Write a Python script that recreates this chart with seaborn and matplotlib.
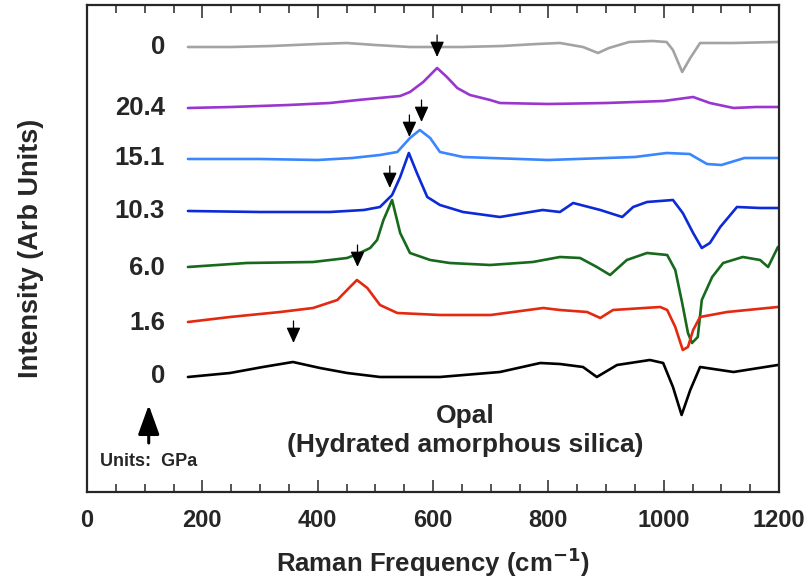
import numpy as np
import pandas as pd
import matplotlib
matplotlib.use("Agg")
import matplotlib.pyplot as plt
from matplotlib.ticker import MultipleLocator
import seaborn as sns

# Raman spectra of opal at increasing pressure.
# Each trace: wavenumber (cm-1) and intensity relative to its own baseline.
pressure_labels = ["0", "20.4", "15.1", "10.3", "6.0", "1.6", "0"]
trace_colors = ["#a3a3a3", "#9a36cf", "#3a86ff", "#0c2ad6", "#17691c", "#e3290f", "#000000"]
trace_offsets = [445, 384, 334, 281, 224, 169, 116]

gray_x = [175, 250, 320, 400, 450, 500, 560, 650, 720, 780, 820, 860, 886, 905, 940, 980,
          1005, 1016, 1032, 1046, 1063, 1120, 1198]
gray_y = [0, 0, 1, 3, 4, 2, 0, 0, 1, 3, 4, 0, -6, -1, 5, 6, 5, -3, -25, -11, 4, 4, 5]

purple_x = [175, 250, 300, 350, 421, 470, 543, 560, 583, 607, 624, 642, 664, 699, 716, 800,
            900, 950, 1000, 1051, 1080, 1121, 1160, 1198]
purple_y = [0, 1, 2, 3, 5, 8, 12, 16, 26, 40, 31, 20, 13, 8, 5, 4, 5, 6, 7, 11, 5, 0, 1, 1]

lightblue_x = [175, 300, 400, 460, 508, 538, 560, 577, 595, 612, 652, 699, 800, 900, 950,
               1005, 1045, 1075, 1100, 1140, 1198]
lightblue_y = [-1, -1, -2, 0, 3, 6, 20, 28, 20, 6, 1, 0, -2, 0, 1, 5, 4, -6, -7, 0, 0]

blue_x = [175, 300, 421, 480, 508, 529, 543, 558, 572, 590, 612, 652, 716, 790, 820, 843,
          890, 928, 947, 971, 1016, 1033, 1051, 1066, 1080, 1098, 1127, 1167, 1198]
blue_y = [0, -1, -1, 1, 4, 16, 34, 58, 38, 14, 6, -1, -6, 1, -1, 8, 1, -6, 4, 9, 11, -2,
          -22, -37, -32, -16, 4, 3, 3]

green_x = [175, 277, 392, 451, 473, 491, 503, 514, 529, 543, 560, 595, 629, 699, 773, 820,
           855, 884, 907, 936, 971, 1006, 1020, 1032, 1042, 1049, 1059, 1066, 1084, 1103,
           1137, 1167, 1181, 1198]
green_y = [1, 5, 6, 10, 15, 20, 28, 48, 68, 35, 15, 8, 5, 3, 6, 11, 10, 1, -7, 8, 15, 13,
           -2, -35, -65, -75, -69, -32, -9, 5, 11, 8, 1, 21]

red_x = [175, 248, 335, 392, 434, 456, 468, 486, 508, 538, 612, 700, 791, 820, 867, 890,
         912, 994, 1006, 1020, 1033, 1042, 1051, 1063, 1110, 1198]
red_y = [1, 6, 11, 15, 23, 36, 43, 35, 18, 10, 8, 8, 15, 13, 11, 5, 13, 16, 13, -4, -27,
         -24, -7, 6, 11, 16]

black_x = [175, 248, 305, 357, 404, 451, 508, 612, 716, 786, 820, 860, 884, 919, 976, 999,
           1016, 1031, 1046, 1063, 1121, 1198]
black_y = [-1, 3, 9, 14, 8, 3, -1, -1, 4, 13, 12, 9, -1, 11, 16, 13, -11, -39, -14, 9, 4, 11]

traces_x = [gray_x, purple_x, lightblue_x, blue_x, green_x, red_x, black_x]
traces_y = [gray_y, purple_y, lightblue_y, blue_y, green_y, red_y, black_y]

# peak markers (arrow tips)
peak_x = [607, 580, 559, 525, 469, 358]
peak_y = [435, 370, 355, 304, 225, 149]

sns.set_style("ticks")
plt.rcParams['font.family'] = ['Liberation Sans', 'DejaVu Sans']
plt.rcParams['font.weight'] = 'bold'
plt.rcParams['mathtext.default'] = 'bf'

fig = plt.figure(figsize=(8.08, 5.81), dpi=100)
ax = fig.add_axes([0.1077, 0.1532, 0.8565, 0.8382])

for xs, ys, off, col in zip(traces_x, traces_y, trace_offsets, trace_colors):
    df = pd.DataFrame({'freq': xs, 'inten': np.array(ys) + off})
    sns.lineplot(data=df, x='freq', y='inten', color=col, lw=1.9, ax=ax,
                 estimator=None, sort=False)

# pressure labels
for lab, off in zip(pressure_labels, trace_offsets):
    ax.text(135, off, lab, ha='right', va='center', fontsize=18.5, fontweight='bold')

# peak arrows
for px, py in zip(peak_x, peak_y):
    ax.annotate('', xy=(px, py), xytext=(px, py + 22),
                arrowprops=dict(arrowstyle='-|>,head_width=0.43,head_length=0.95',
                                color='black', lw=0.9, shrinkA=0, shrinkB=0,
                                mutation_scale=10))

# pressure direction arrow
ax.annotate('', xy=(107, 87), xytext=(107, 49),
            arrowprops=dict(arrowstyle='-|>,head_width=0.65,head_length=1.8',
                            color='black', lw=2.2, shrinkA=0, shrinkB=0,
                            mutation_scale=10))
ax.text(22, 30, 'Units:  GPa', ha='left', va='center', fontsize=13, fontweight='bold')

ax.text(656, 76, 'Opal', ha='center', va='center', fontsize=19, fontweight='bold')
ax.text(655, 47, '(Hydrated amorphous silica)', ha='center', va='center',
        fontsize=19, fontweight='bold')

ax.set_xlim(0, 1200)
ax.set_ylim(0, 487)
ax.set_yticks([])
ax.xaxis.set_major_locator(MultipleLocator(200))
ax.xaxis.set_minor_locator(MultipleLocator(50))
ax.tick_params(axis='x', which='both', direction='in', top=True, bottom=True,
               width=1.1, labelsize=17, pad=12)
ax.tick_params(axis='x', which='major', length=9)
ax.tick_params(axis='x', which='minor', length=5.5)
for lbl in ax.get_xticklabels():
    lbl.set_fontweight('bold')
for sp in ax.spines.values():
    sp.set_visible(True)
    sp.set_linewidth(1.6)

ax.set_xlabel('Raman Frequency (cm$^{-1}$)', fontsize=18.5, fontweight='bold', labelpad=10)
ax.set_ylabel('Intensity (Arb Units)', fontsize=19.5, fontweight='bold')
ax.yaxis.set_label_coords(-0.062, 0.5)

fig.savefig('out.png', dpi=100)
